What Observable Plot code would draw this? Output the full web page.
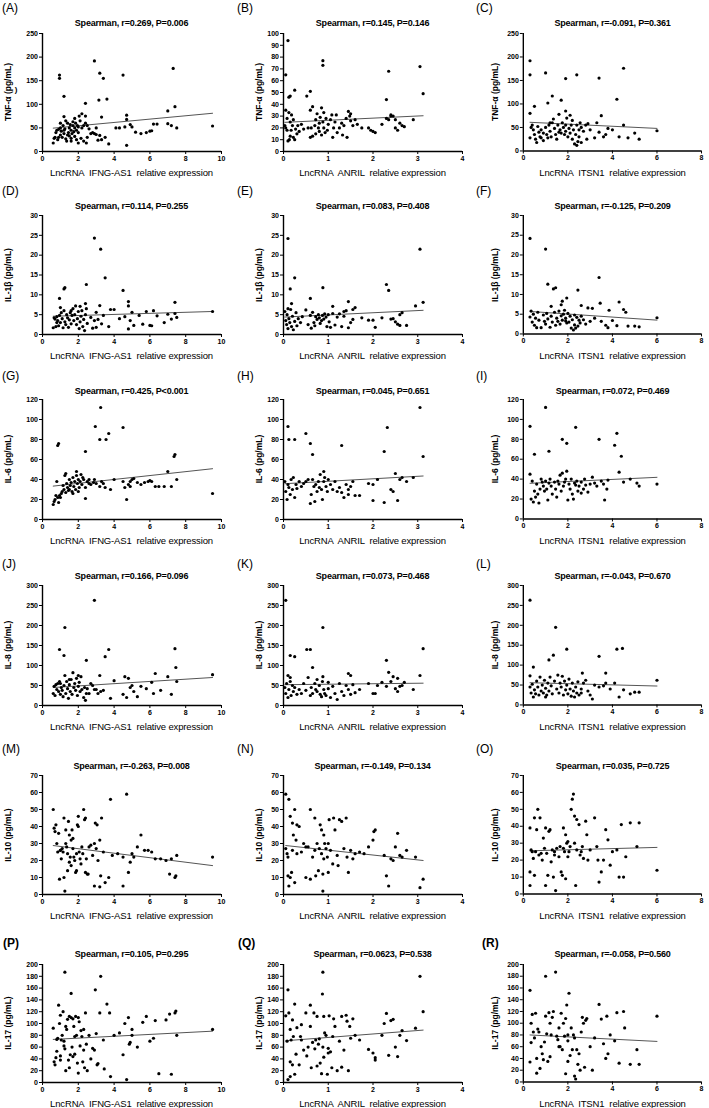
<!DOCTYPE html>
<html><head><meta charset="utf-8">
<script src="https://cdn.jsdelivr.net/npm/d3@7"></script>
<script src="https://cdn.jsdelivr.net/npm/@observablehq/plot@0.6"></script>
<style>
body{margin:0;background:#fff;}
#root{position:relative;width:709px;height:1108px;overflow:hidden;font-family:"Liberation Sans",Arial,sans-serif;color:#000;background:#fff;}
.t{position:absolute;white-space:pre;line-height:1;}
.panel{position:absolute;}
.panel svg text{font-weight:bold;}
</style></head><body><div id="root"></div>
<script>
// ---------- chart values ----------
const panelIds = ["A","B","C","D","E","F","G","H","I","J","K","L","M","N","O","P","Q","R"];
const titles = [
 "Spearman, r=0.269, P=0.006","Spearman, r=0.145, P=0.146","Spearman, r=-0.091, P=0.361",
 "Spearman, r=0.114, P=0.255","Spearman, r=0.083, P=0.408","Spearman, r=-0.125, P=0.209",
 "Spearman, r=0.425, P<0.001","Spearman, r=0.045, P=0.651","Spearman, r=0.072, P=0.469",
 "Spearman, r=0.166, P=0.096","Spearman, r=0.073, P=0.468","Spearman, r=-0.043, P=0.670",
 "Spearman, r=-0.263, P=0.008","Spearman, r=-0.149, P=0.134","Spearman, r=0.035, P=0.725",
 "Spearman, r=0.105, P=0.295","Spearman, r=0.0623, P=0.538","Spearman, r=-0.058, P=0.560"];
const yLabels = ["TNF-α (pg/mL)","IL-1β (pg/mL)","IL-6 (pg/mL)","IL-8 (pg/mL)","IL-10 (pg/mL)","IL-17 (pg/mL)"];
const xLabels = ["LncRNA  IFNG-AS1  relative expression","LncRNA  ANRIL  relative expression","LncRNA  ITSN1  relative expression"];
const xMax = [10,4,8];
const xStep = [2,1,2];
const yMax = [250,100,250, 30,30,30, 120,120,120, 300,300,300, 70,70,70, 200,200,200];
const yStep = [50,10,50, 5,5,5, 20,20,20, 50,50,50, 10,10,10, 20,20,20];
const fitLeftY  = [49.5,24.7,61, 4.6,4.4,5.7, 33.4,35.8,35.8, 45,52,55.8, 28.8,28.8,25.5, 73,70.8,80];
const fitRightY = [81,30.3,48, 5.8,6.1,3.5, 50.8,43.5,41.8, 70,55.8,47.5, 17,20,27.5, 87,88.8,69];

const ptsA = [[0.95,162],[0.95,155],[1.2,117],[2.9,192],[3.2,166],[3.4,155],[4.5,162],[7.3,176],[3.6,111],[3.15,109],[2.4,102],[7.4,95],[7.0,86],[3.3,73],
[4.7,77],[4.7,68],[4.6,52],[4.3,50],[4.9,57],[5.0,52],[5.2,41],[5.5,38],[5.8,40],[6.0,43],[6.1,44],[6.2,58],[6.4,58],[7.0,59],[7.2,55],[7.5,50],[9.5,54],[4.1,50],[3.7,16],[4.7,13],[3.0,50],[2.9,38],[3.0,36],[3.2,34],[3.3,25],[3.1,24],[3.5,30],
[0.6,18],[0.65,28],[0.7,30],[0.75,40],[0.8,45],[0.85,25],[0.9,47],[1.0,35],[1.0,50],[1.05,43],[1.1,30],[1.15,55],[1.2,38],[1.2,74],[1.25,48],[1.3,27],[1.35,22],[1.4,60],[1.45,40],[1.5,50],[1.5,33],[1.55,57],[1.6,28],[1.6,45],[1.65,38],[1.7,55],[1.7,63],[1.75,42],[1.8,50],[1.8,32],[1.85,60],[1.9,45],[1.9,25],[1.95,55],[2.0,18],[2.0,40],[2.05,75],[2.1,65],[2.15,28],[2.2,50],[2.2,80],[2.3,55],[2.3,22],[2.4,75],[2.4,60],[2.45,18],[2.5,30],[2.6,48],[2.7,38],[1.3,65],[1.0,60],[0.9,30],[1.4,35],[1.6,22],[1.8,70],[2.0,52],[1.2,45],[2.8,40],[2.5,55]];
const ptsB = [[0.1,94],[0.05,65],[0.88,77],[0.88,73],[2.35,68],[3.05,72],[3.12,49],[0.15,47],[0.12,46],[0.25,52],[0.52,47],[0.6,51],[2.3,44],
[0.03,22],[0.05,20],[0.08,28],[0.1,9],[0.12,33],[0.13,10],[0.15,25],[0.17,18],[0.18,31],[0.2,22],[0.22,12],[0.22,27],[0.25,10],[0.27,19],[0.3,15],[0.32,22],[0.35,17],[0.4,23],[0.45,19],[0.05,35],[0.15,13],[0.08,18],
[0.55,20],[0.6,12],[0.62,20],[0.65,38],[0.65,13],[0.7,22],[0.72,27],[0.75,32],[0.78,20],[0.8,17],[0.82,29],[0.85,37],[0.85,14],[0.88,25],[0.9,20],[0.9,33],[0.93,16],[0.95,28],[0.98,18],[1.0,23],[0.72,15],[0.6,35],[0.8,24],
[1.05,27],[1.08,31],[1.1,12],[1.12,20],[1.15,25],[1.18,31],[1.2,16],[1.25,20],[1.3,24],[1.32,14],[1.35,22],[1.4,28],[1.42,12],[1.45,34],[1.48,30],[1.5,26],[1.55,22],[1.6,27],[1.65,23],[1.5,32],
[1.75,20],[1.9,20],[1.95,18],[2.0,17],[2.05,16],[2.2,23],[2.3,28],[2.35,27],[2.4,30],[2.45,30],[2.5,20],[2.5,27],[2.55,18],[2.6,24],[2.65,22],[2.7,21],[2.9,27],[2.4,31]];
const ptsC = [[0.3,192],[0.3,162],[1.0,166],[1.9,154],[2.4,162],[3.4,155],[4.5,176],[4.2,110],[1.1,102],[1.3,117],[1.7,108],[0.5,95],[0.3,80],[1.9,85],[1.6,78],[2.1,76],
[0.3,28],[0.35,50],[0.4,55],[0.45,45],[0.5,35],[0.55,25],[0.6,18],[0.65,52],[0.7,40],[0.75,30],[0.8,45],[0.9,38],[0.9,22],[1.0,50],[1.05,35],[1.1,28],[1.15,55],[1.2,42],[1.25,30],[1.3,60],[1.35,68],[1.4,48],[1.45,35],[1.5,25],[1.55,55],[1.6,40],[1.65,45],[1.7,38],[1.75,60],[1.8,50],[1.85,35],[1.9,55],[1.9,42],[1.95,70],[2.0,30],[2.05,48],[2.1,38],[2.15,55],[2.2,25],[2.2,65],[2.25,45],[2.3,15],[2.35,35],[2.4,12],[2.4,55],[2.45,20],[2.5,45],[2.5,30],[2.55,60],[2.6,50],[2.7,42],[2.8,55],[2.85,25],[2.9,58],[3.0,45],[3.2,28],[3.3,60],[3.4,40],[3.5,75],[3.6,30],[3.7,35],[3.8,48],[4.0,45],[4.3,30],[4.5,55],[4.7,28],[5.0,38],[5.2,25],[6.0,43],[2.6,18],[1.2,60],[0.8,28]];
const ptsD = [[2.9,24.3],[3.25,21.5],[3.5,14.3],[2.45,12.6],[1.2,11.5],[1.25,11.8],[4.5,11.1],[0.95,9.1],[4.8,8.3],[7.4,8.1],[2.4,7.8],[4.8,7.2],[3.2,7.3],[1.0,6.8],[3.8,6.3],[4.0,6.3],
[0.6,1.7],[0.65,4.2],[0.7,3.9],[0.75,2.0],[0.8,4.5],[0.85,3.5],[0.9,2.2],[0.95,4.8],[1.0,3.0],[1.05,5.5],[1.1,4.0],[1.15,1.7],[1.2,6.0],[1.25,3.2],[1.3,2.5],[1.35,5.0],[1.4,4.2],[1.45,1.8],[1.5,3.7],[1.55,5.5],[1.6,2.7],[1.65,4.8],[1.7,6.5],[1.75,3.5],[1.8,5.0],[1.85,7.2],[1.9,2.5],[1.95,4.0],[2.0,5.8],[2.05,1.5],[2.1,3.2],[2.15,4.6],[2.2,6.0],[2.25,2.0],[2.3,3.8],[2.35,1.0],[2.4,5.0],[2.45,6.5],[2.5,2.8],[2.7,4.3],[2.8,1.6],[2.9,3.5],[3.0,5.6],[3.0,1.8],[3.1,3.8],[3.3,2.7],[3.4,4.8],[3.7,2.0],[4.3,4.0],[4.6,4.5],[4.8,1.4],[4.9,3.5],[5.0,5.6],[5.1,2.3],[5.4,4.8],[5.6,2.6],[5.8,5.8],[6.0,2.3],[6.1,2.2],[6.2,6.0],[6.4,4.7],[6.8,3.0],[7.0,5.1],[7.2,3.9],[7.4,5.3],[7.5,4.3],[9.5,5.8],[2.1,7.1],[1.6,6.0],[0.8,3.0]];
const ptsE = [[0.1,24.2],[3.05,21.5],[0.25,14.3],[2.3,12.6],[2.35,11.1],[0.88,11.8],[0.15,11.5],[0.6,9.1],[3.12,8.1],[1.45,8.3],[2.95,7.2],[1.1,7.1],[0.18,7.8],[0.1,6.5],
[0.03,5.8],[0.05,3.5],[0.07,2.5],[0.08,5.0],[0.1,1.5],[0.12,4.0],[0.14,3.0],[0.16,6.3],[0.18,2.0],[0.2,4.6],[0.22,1.2],[0.25,3.3],[0.28,5.5],[0.3,2.2],[0.33,4.0],[0.38,3.0],[0.42,4.5],[0.5,6.2],[0.55,2.5],[0.6,4.8],[0.62,1.6],[0.65,5.6],[0.68,3.0],[0.7,2.2],[0.72,4.5],[0.75,3.8],[0.78,5.0],[0.8,4.2],[0.82,2.8],[0.85,3.5],[0.87,4.8],[0.9,3.9],[0.92,5.2],[0.95,4.4],[0.97,2.0],[1.0,5.0],[1.02,3.2],[1.05,1.8],[1.1,5.3],[1.15,2.4],[1.2,4.4],[1.25,5.2],[1.3,2.0],[1.35,5.8],[1.4,6.0],[1.45,1.7],[1.5,3.0],[1.55,6.3],[1.6,6.8],[1.55,3.8],[1.75,4.2],[1.9,3.6],[2.0,3.6],[2.05,1.8],[2.2,4.2],[2.4,3.9],[2.5,3.2],[2.55,2.6],[2.6,2.3],[2.6,5.0],[2.65,5.5],[2.75,2.3],[2.45,4.0],[1.35,4.6]];
const ptsF = [[0.3,24.2],[1.0,21.5],[3.4,14.3],[1.1,12.6],[1.35,11.4],[1.45,11.7],[2.45,11.1],[1.95,9.1],[1.75,8.3],[4.3,8.1],[3.45,7.8],[1.7,7.4],[2.6,7.2],[1.25,7.0],[3.1,6.5],[4.5,6.2],[3.85,6.0],
[0.3,4.3],[0.35,5.8],[0.4,3.0],[0.45,5.0],[0.5,2.2],[0.55,4.0],[0.6,1.6],[0.65,5.5],[0.7,3.5],[0.8,1.6],[0.9,4.8],[0.95,3.2],[1.0,2.5],[1.05,5.2],[1.1,3.8],[1.2,1.7],[1.25,4.5],[1.3,3.0],[1.4,5.5],[1.45,2.2],[1.5,4.0],[1.55,3.2],[1.6,5.8],[1.65,2.5],[1.7,4.6],[1.75,3.5],[1.8,5.0],[1.85,6.0],[1.9,4.0],[1.95,2.8],[2.0,5.2],[2.05,3.0],[2.1,4.5],[2.15,1.5],[2.2,3.6],[2.25,1.0],[2.3,2.3],[2.35,1.5],[2.4,4.2],[2.45,2.0],[2.5,3.5],[2.55,2.8],[2.6,4.5],[2.7,3.6],[2.8,2.5],[2.9,6.6],[3.0,3.2],[3.2,4.0],[3.5,3.2],[3.7,2.2],[3.8,1.6],[4.0,3.4],[4.2,2.1],[4.6,5.5],[4.7,2.0],[5.0,2.0],[5.2,1.8],[6.0,4.1],[2.3,4.8],[1.9,3.3]];
const ptsG = [[3.25,112],[2.95,93],[4.5,92],[3.7,86],[3.55,80],[3.2,80],[0.9,76],[0.85,74],[2.4,68],[7.4,65],[7.35,63],[7.0,48],[9.5,26],[4.7,20],[2.4,21],
[0.6,15],[0.65,18],[0.7,20],[0.75,24],[0.8,38],[0.85,22],[0.9,17],[0.95,24],[1.0,22],[1.05,26],[1.1,28],[1.15,34],[1.2,30],[1.25,44],[1.3,46],[1.3,27],[1.35,36],[1.4,32],[1.45,29],[1.5,40],[1.55,34],[1.6,37],[1.65,28],[1.7,42],[1.75,33],[1.8,38],[1.85,30],[1.9,44],[1.95,36],[2.0,40],[2.05,32],[2.1,38],[2.15,45],[2.2,35],[2.25,42],[2.3,40],[2.4,32],[2.5,38],[2.6,36],[2.7,35],[2.85,37],[2.9,40],[3.0,36],[3.2,33],[3.3,38],[3.4,36],[3.5,32],[3.8,30],[4.0,40],[4.5,38],[4.6,32],[4.8,35],[4.9,38],[5.0,40],[5.1,41],[5.3,37],[5.5,35],[5.7,37],[5.9,38],[6.0,39],[6.1,38],[6.3,33],[6.5,33],[6.8,33],[7.2,33],[7.5,40],[2.0,28],[1.7,26],[1.5,30],[2.6,40],[1.9,48],[4.9,33]];
const ptsH = [[0.1,93],[3.05,112],[2.32,92],[0.5,86],[0.12,80],[0.25,80],[0.6,76],[1.3,74],[0.65,65],[2.25,68],[3.12,63],[2.5,46],[0.9,48],
[0.03,38],[0.05,28],[0.08,20],[0.1,35],[0.12,32],[0.15,25],[0.17,40],[0.2,30],[0.22,42],[0.25,22],[0.28,35],[0.3,31],[0.35,38],[0.4,33],[0.45,36],[0.5,38],[0.55,40],[0.6,16],[0.62,25],[0.65,40],[0.68,33],[0.7,18],[0.72,35],[0.75,28],[0.78,38],[0.8,32],[0.82,45],[0.85,30],[0.87,20],[0.9,38],[0.92,42],[0.95,33],[0.98,28],[1.0,40],[1.05,35],[1.1,30],[1.15,38],[1.2,28],[1.25,32],[1.3,27],[1.35,22],[1.4,35],[1.45,30],[1.5,33],[1.55,38],[1.6,24],[1.7,24],[2.0,35],[2.0,19],[2.1,40],[2.25,17],[2.4,30],[2.45,28],[2.55,19],[2.6,40],[2.65,42],[2.75,38],[2.9,42],[1.9,36],[1.45,25]];
const ptsI = [[1.0,112],[0.3,93],[2.35,92],[4.2,86],[1.75,80],[3.4,80],[1.95,76],[4.1,74],[1.15,68],[0.5,65],[4.4,63],[4.3,47],
[0.3,45],[0.35,20],[0.4,38],[0.45,17],[0.5,28],[0.55,22],[0.6,35],[0.65,25],[0.7,16],[0.75,30],[0.8,40],[0.85,37],[0.9,33],[0.95,28],[1.0,38],[1.05,30],[1.1,19],[1.15,36],[1.2,40],[1.25,33],[1.3,25],[1.4,37],[1.45,30],[1.5,22],[1.55,38],[1.6,35],[1.65,44],[1.7,28],[1.75,46],[1.8,33],[1.85,37],[1.9,40],[1.95,48],[2.0,19],[2.05,35],[2.1,30],[2.15,40],[2.2,25],[2.25,20],[2.3,36],[2.35,34],[2.4,38],[2.45,28],[2.5,33],[2.6,37],[2.7,30],[2.75,40],[2.8,34],[2.9,27],[3.0,35],[3.1,42],[3.2,36],[3.3,33],[3.5,38],[3.6,35],[3.65,19],[3.75,30],[3.8,39],[4.5,37],[4.8,40],[5.1,36],[5.2,33],[6.0,35],[2.6,26]];
const ptsJ = [[2.9,263],[1.25,195],[0.95,140],[3.7,140],[7.4,142],[1.2,125],[3.5,122],[2.45,113],[7.45,95],[9.5,77],[6.3,80],[7.0,72],[3.2,75],
[0.6,30],[0.65,48],[0.7,25],[0.75,52],[0.8,40],[0.85,55],[0.9,35],[0.95,60],[1.0,28],[1.05,45],[1.1,38],[1.15,22],[1.2,50],[1.25,75],[1.3,30],[1.35,60],[1.4,42],[1.45,18],[1.5,52],[1.55,35],[1.6,65],[1.65,28],[1.7,82],[1.75,45],[1.8,55],[1.85,38],[1.9,68],[1.95,25],[2.0,48],[2.05,58],[2.1,35],[2.15,72],[2.2,40],[2.3,20],[2.35,45],[2.4,13],[2.5,42],[2.6,30],[2.7,55],[2.8,50],[3.0,40],[3.1,30],[3.25,35],[3.4,38],[3.8,18],[4.0,62],[4.5,28],[4.6,72],[4.7,20],[4.8,68],[4.9,45],[5.0,50],[5.1,35],[5.3,22],[5.5,48],[5.8,42],[6.1,58],[6.2,30],[6.6,38],[7.2,28],[7.5,60],[2.0,75],[1.5,65],[1.0,55],[2.45,30],[2.9,40]];
const ptsK = [[0.05,263],[0.88,195],[0.15,125],[0.25,122],[0.52,140],[0.6,140],[3.12,142],[2.3,113],[0.65,95],[2.35,83],[1.45,80],[3.05,75],[1.5,75],[0.1,75],[0.88,72],[2.45,72],[2.55,68],[0.15,70],
[0.03,45],[0.05,30],[0.07,55],[0.1,20],[0.12,40],[0.15,60],[0.17,25],[0.2,50],[0.22,35],[0.25,45],[0.3,28],[0.35,40],[0.4,30],[0.45,55],[0.5,38],[0.55,70],[0.6,25],[0.62,45],[0.65,30],[0.7,55],[0.72,40],[0.75,35],[0.8,50],[0.82,28],[0.85,22],[0.87,60],[0.9,40],[0.92,30],[0.95,25],[1.0,42],[1.05,20],[1.1,48],[1.15,30],[1.2,15],[1.25,55],[1.3,35],[1.35,25],[1.4,50],[1.45,40],[1.5,28],[1.55,52],[1.6,32],[1.7,40],[1.9,55],[2.0,30],[2.05,30],[2.1,50],[2.2,58],[2.3,48],[2.4,60],[2.5,42],[2.55,35],[2.6,48],[2.65,50],[2.7,58],[2.9,40],[1.0,58],[0.75,65]];
const ptsL = [[0.3,263],[1.45,195],[1.95,140],[4.2,140],[4.45,142],[1.35,125],[1.15,113],[3.4,122],[0.45,95],[3.7,80],[2.65,80],[0.3,73],[6.0,62],
[0.3,45],[0.35,30],[0.4,52],[0.45,20],[0.5,38],[0.55,28],[0.6,60],[0.65,45],[0.7,25],[0.75,70],[0.8,35],[0.85,50],[0.9,30],[0.95,62],[1.0,42],[1.05,25],[1.1,55],[1.15,35],[1.2,70],[1.25,48],[1.3,28],[1.4,60],[1.5,40],[1.55,75],[1.6,30],[1.65,55],[1.7,45],[1.75,72],[1.8,25],[1.85,60],[1.9,38],[1.95,50],[2.0,28],[2.05,65],[2.1,40],[2.15,22],[2.2,55],[2.25,35],[2.3,20],[2.35,45],[2.4,30],[2.45,58],[2.5,25],[2.6,40],[2.7,55],[2.8,62],[2.9,35],[3.0,25],[3.1,15],[3.2,50],[3.4,45],[3.6,48],[3.7,55],[3.9,40],[4.1,55],[4.3,20],[4.5,38],[4.8,28],[5.0,32],[5.2,32],[2.6,30],[1.0,20]];
const ptsM = [[0.6,50],[0.65,39],[0.7,37],[0.75,41],[0.8,30],[0.85,25],[0.9,36],[0.95,9],[1.0,26],[1.05,21],[1.1,27],[1.15,25],[1.2,45],[1.2,10],[1.25,2],[1.3,38],[1.3,30],[1.35,28],[1.4,24],[1.45,43],[1.5,35],[1.5,19],[1.55,22],[1.6,32],[1.6,17],[1.65,38],[1.7,27],[1.75,22],[1.8,20],[1.85,13],[1.9,14],[1.9,24],[1.95,41],[2.0,46],[2.0,40],[2.05,25],[2.1,21],[2.15,18],[2.2,28],[2.25,24],[2.3,50],[2.35,44],[2.4,45],[2.4,13],[2.45,21],[2.5,12],[2.55,12],[2.6,28],[2.7,29],[2.8,23],[2.9,30],[2.95,42],[3.0,27],[3.05,41],[3.1,20],[3.2,32],[3.25,11],[3.3,45],[3.4,25],[3.5,7],[3.7,10],[3.8,56],[3.9,23],[4.2,24],[4.5,22],[4.5,5],[4.7,59],[4.8,13],[4.9,19],[5.0,24],[5.1,22],[5.3,28],[5.5,35],[5.7,26],[5.9,26],[6.1,25],[6.3,21],[6.6,21],[6.9,20],[7.1,12],[7.2,21],[7.4,10],[7.45,11],[7.5,23],[9.5,22],[1.0,26],[1.4,14],[1.7,33],[2.9,5],[3.2,4.5]];
const ptsN = [[0.05,59],[0.12,56],[0.15,46],[0.2,42],[0.25,50],[0.3,41],[0.35,40],[0.05,27],[0.08,24],[0.1,22],[0.1,11],[0.12,5],[0.15,10],[0.18,13],[0.2,26],[0.22,35],[0.25,7],[0.28,32],[0.3,24],[0.4,25],[0.45,30],[0.5,10],[0.55,28],[0.6,50],[0.6,9],[0.65,22],[0.7,45],[0.7,26],[0.72,11],[0.75,30],[0.78,14],[0.8,27],[0.82,41],[0.85,38],[0.85,24],[0.88,12],[0.88,2],[0.9,35],[0.9,21],[0.92,30],[0.95,27],[0.98,22],[1.0,30],[1.0,13],[1.02,44],[1.05,26],[1.1,18],[1.12,45],[1.15,38],[1.2,23],[1.22,17],[1.25,44],[1.3,43],[1.35,27],[1.4,45],[1.42,22],[1.45,13],[1.5,26],[1.55,21],[1.6,24],[1.7,25],[1.9,28],[2.0,32],[2.02,37],[2.05,38],[2.25,23],[2.3,11],[2.35,5],[2.4,21],[2.45,20],[2.5,28],[2.55,36],[2.6,23],[2.65,22],[2.75,26],[2.95,22],[3.05,4],[3.12,9],[1.8,24],[0.5,28]];
const ptsO = [[0.3,39],[0.3,13],[0.3,5],[0.35,26],[0.4,25],[0.45,21],[0.5,45],[0.5,11],[0.55,25],[0.6,38],[0.65,50],[0.7,23],[0.75,45],[0.8,24],[0.85,20],[0.9,33],[0.95,27],[1.0,39],[1.0,5],[1.05,24],[1.1,11],[1.15,37],[1.2,38],[1.25,19],[1.3,26],[1.35,10],[1.4,23],[1.45,2],[1.5,27],[1.6,22],[1.65,28],[1.7,13],[1.75,11],[1.8,39],[1.85,25],[1.9,35],[1.9,9],[1.95,30],[2.0,22],[2.05,25],[2.1,28],[2.15,50],[2.2,56],[2.25,59],[2.3,46],[2.3,30],[2.35,5],[2.4,44],[2.4,26],[2.5,41],[2.55,23],[2.6,25],[2.65,28],[2.7,21],[2.8,43],[2.85,35],[2.9,20],[3.0,26],[3.2,45],[3.3,28],[3.35,20],[3.4,7],[3.5,13],[3.6,20],[3.7,38],[3.8,32],[3.9,17],[4.0,25],[4.2,26],[4.3,10],[4.4,41],[4.5,10],[4.6,22],[4.8,42],[5.1,28],[5.2,42],[6.0,14],[1.8,27],[2.0,31],[1.4,25]];
const ptsP = [[0.6,92],[0.65,35],[0.7,30],[0.75,42],[0.8,53],[0.8,73],[0.85,75],[0.9,131],[0.95,100],[1.0,114],[1.0,45],[1.05,72],[1.1,80],[1.15,120],[1.2,70],[1.25,187],[1.25,57],[1.3,95],[1.3,20],[1.35,90],[1.4,107],[1.45,38],[1.5,25],[1.5,112],[1.55,47],[1.6,151],[1.6,110],[1.65,60],[1.7,108],[1.7,44],[1.75,95],[1.8,78],[1.85,112],[1.9,80],[1.95,33],[2.0,110],[2.0,16],[2.05,103],[2.1,62],[2.15,88],[2.2,78],[2.25,35],[2.3,90],[2.35,25],[2.4,118],[2.45,65],[2.5,20],[2.6,80],[2.7,40],[2.8,58],[2.9,55],[2.95,157],[3.0,83],[3.05,30],[3.1,32],[3.2,118],[3.25,180],[3.4,72],[3.45,23],[3.6,133],[3.75,118],[3.8,10],[4.0,80],[4.3,84],[4.5,47],[4.6,100],[4.7,5],[4.8,110],[4.85,65],[4.9,68],[5.0,90],[5.0,80],[5.3,60],[5.6,102],[5.8,112],[6.0,70],[6.2,75],[6.3,105],[6.5,15],[6.9,106],[7.1,116],[7.2,14],[7.4,118],[7.45,121],[7.5,80],[9.5,90],[1.2,62],[1.8,48],[2.3,55],[1.0,38]];
const ptsQ = [[0.05,113],[0.08,70],[0.1,157],[0.1,5],[0.12,118],[0.15,90],[0.15,10],[0.17,72],[0.2,106],[0.2,30],[0.22,78],[0.25,133],[0.25,14],[0.28,48],[0.3,93],[0.35,30],[0.38,78],[0.4,72],[0.45,55],[0.5,118],[0.52,45],[0.55,60],[0.6,131],[0.6,95],[0.62,25],[0.65,68],[0.68,118],[0.7,57],[0.72,72],[0.75,112],[0.75,28],[0.78,65],[0.8,74],[0.82,33],[0.85,15],[0.87,150],[0.88,187],[0.88,60],[0.9,112],[0.9,43],[0.92,84],[0.95,80],[0.98,14],[1.0,58],[1.02,113],[1.05,52],[1.08,25],[1.1,78],[1.12,108],[1.15,95],[1.2,20],[1.25,70],[1.3,112],[1.3,26],[1.35,55],[1.4,114],[1.42,104],[1.45,20],[1.48,95],[1.5,75],[1.55,108],[1.6,80],[1.7,72],[1.9,56],[2.0,50],[2.05,42],[2.05,38],[2.2,80],[2.25,100],[2.3,117],[2.35,46],[2.4,105],[2.45,107],[2.5,60],[2.55,44],[2.6,80],[2.65,88],[2.75,71],[2.95,92],[3.05,180],[3.12,120],[0.15,35],[0.4,98],[1.0,50]];
const ptsR = [[0.3,156],[0.3,34],[0.35,67],[0.35,100],[0.4,115],[0.45,85],[0.5,75],[0.55,117],[0.6,15],[0.6,40],[0.65,90],[0.7,85],[0.75,23],[0.8,60],[0.85,48],[0.9,38],[0.95,68],[1.0,180],[1.0,112],[1.05,82],[1.1,35],[1.15,118],[1.2,43],[1.25,80],[1.3,110],[1.35,120],[1.45,187],[1.5,78],[1.55,72],[1.6,92],[1.65,60],[1.7,117],[1.75,55],[1.8,100],[1.85,78],[1.9,108],[1.9,14],[1.95,131],[2.0,70],[2.0,35],[2.05,151],[2.1,45],[2.15,92],[2.2,55],[2.25,80],[2.3,10],[2.3,75],[2.35,5],[2.4,55],[2.45,30],[2.5,48],[2.55,20],[2.6,85],[2.65,110],[2.7,100],[2.75,25],[2.8,105],[2.85,108],[3.0,60],[3.1,20],[3.2,75],[3.4,132],[3.5,107],[3.6,65],[3.7,40],[3.75,112],[3.8,48],[3.9,80],[4.1,70],[4.2,118],[4.3,32],[4.5,120],[4.55,92],[4.8,30],[5.1,55],[5.2,30],[6.0,112],[1.2,100],[2.0,80],[1.6,60]];
const allPoints = [ptsA,ptsB,ptsC,ptsD,ptsE,ptsF,ptsG,ptsH,ptsI,ptsJ,ptsK,ptsL,ptsM,ptsN,ptsO,ptsP,ptsQ,ptsR];

// ---------- layout ----------
const colLeft = [0, 241, 481];
const labelX = [[2,237,476],[2,237,476],[2,237,476],[2,237,476],[2,237,476],[3,238,482]];
const yLabX = [8, 259, 495];
const plotTop = [33, 215, 399, 585, 775, 964];
const plotBottom = [151, 334, 519, 705, 894, 1082];
const titleY = [23, 206, 391, 576, 766, 954];
const letterY = [8, 191, 376, 564, 749, 943];
const MT = 4, MB = 16, ML = 42, MR = 8, W = 229;
const FONT = '"Liberation Sans", Arial, sans-serif';

const root = document.getElementById("root");
function addText(txt, x, y, css, transform) {
  const d = document.createElement("div");
  d.className = "t";
  d.textContent = txt;
  d.style.left = x + "px";
  d.style.top = y + "px";
  d.style.transform = transform || "translate(-50%,-50%)";
  Object.assign(d.style, css);
  root.appendChild(d);
  return d;
}

panelIds.forEach((id, p) => {
  const row = Math.floor(p / 3), col = p % 3;
  const pts = allPoints[p];
  const [x0, x1] = d3.extent(pts, d => d[0]);
  const fit = [[x0, fitLeftY[p]], [x1, fitRightY[p]]];
  const h = plotBottom[row] - plotTop[row] + MT + MB;
  const chart = Plot.plot({
    width: W, height: h,
    marginLeft: ML, marginRight: MR, marginTop: MT, marginBottom: MB,
    style: {fontFamily: FONT, fontSize: "7px", color: "#000", background: "transparent", overflow: "visible"},
    x: {domain: [0, xMax[col]]},
    y: {domain: [0, yMax[p]]},
    marks: [
      Plot.axisX({ticks: d3.range(0, xMax[col] + 1e-9, xStep[col]), tickFormat: d => String(d), tickSize: 3, tickPadding: 1.5, label: null, fontSize: 7, fontWeight: "bold"}),
      Plot.axisY({ticks: d3.range(0, yMax[p] + 1e-9, yStep[p]), tickFormat: d => String(d), tickSize: 3, tickPadding: 1.5, label: null, fontSize: 7, fontWeight: "bold"}),
      Plot.ruleX([0], {stroke: "#000", strokeWidth: 1.4}),
      Plot.ruleY([0], {stroke: "#000", strokeWidth: 1.4}),
      Plot.line(fit, {x: d => d[0], y: d => d[1], stroke: "#555", strokeWidth: 1}),
      Plot.dot(pts, {x: d => d[0], y: d => d[1], r: 1.6, fill: "#000", stroke: "none"})
    ]
  });
  const wrap = document.createElement("div");
  wrap.className = "panel";
  wrap.style.left = colLeft[col] + "px";
  wrap.style.top = (plotTop[row] - MT) + "px";
  wrap.appendChild(chart);
  root.appendChild(wrap);

  const cx = colLeft[col] + ML + (W - ML - MR) / 2;
  addText("(" + id + ")", labelX[row][col], letterY[row], {fontSize: "12px", fontWeight: row === 5 ? "bold" : "normal"}, "translate(0,-50%)");
  addText(titles[p], cx, titleY[row], {fontSize: "9px", fontWeight: "bold", letterSpacing: "-0.2px"});
  addText(xLabels[col], cx, plotBottom[row] + 22, {fontSize: "9.5px", letterSpacing: "-0.15px"});
  const cy = (plotTop[row] + plotBottom[row]) / 2;
  addText(yLabels[row], yLabX[col], cy, {fontSize: "8.5px", fontWeight: "bold"}, "translate(-50%,-50%) rotate(-90deg)");
  if (p === 0) addText(")", yLabX[col] + 8, cy - 2, {fontSize: "8px", fontWeight: "bold"});
});
</script></body></html>
